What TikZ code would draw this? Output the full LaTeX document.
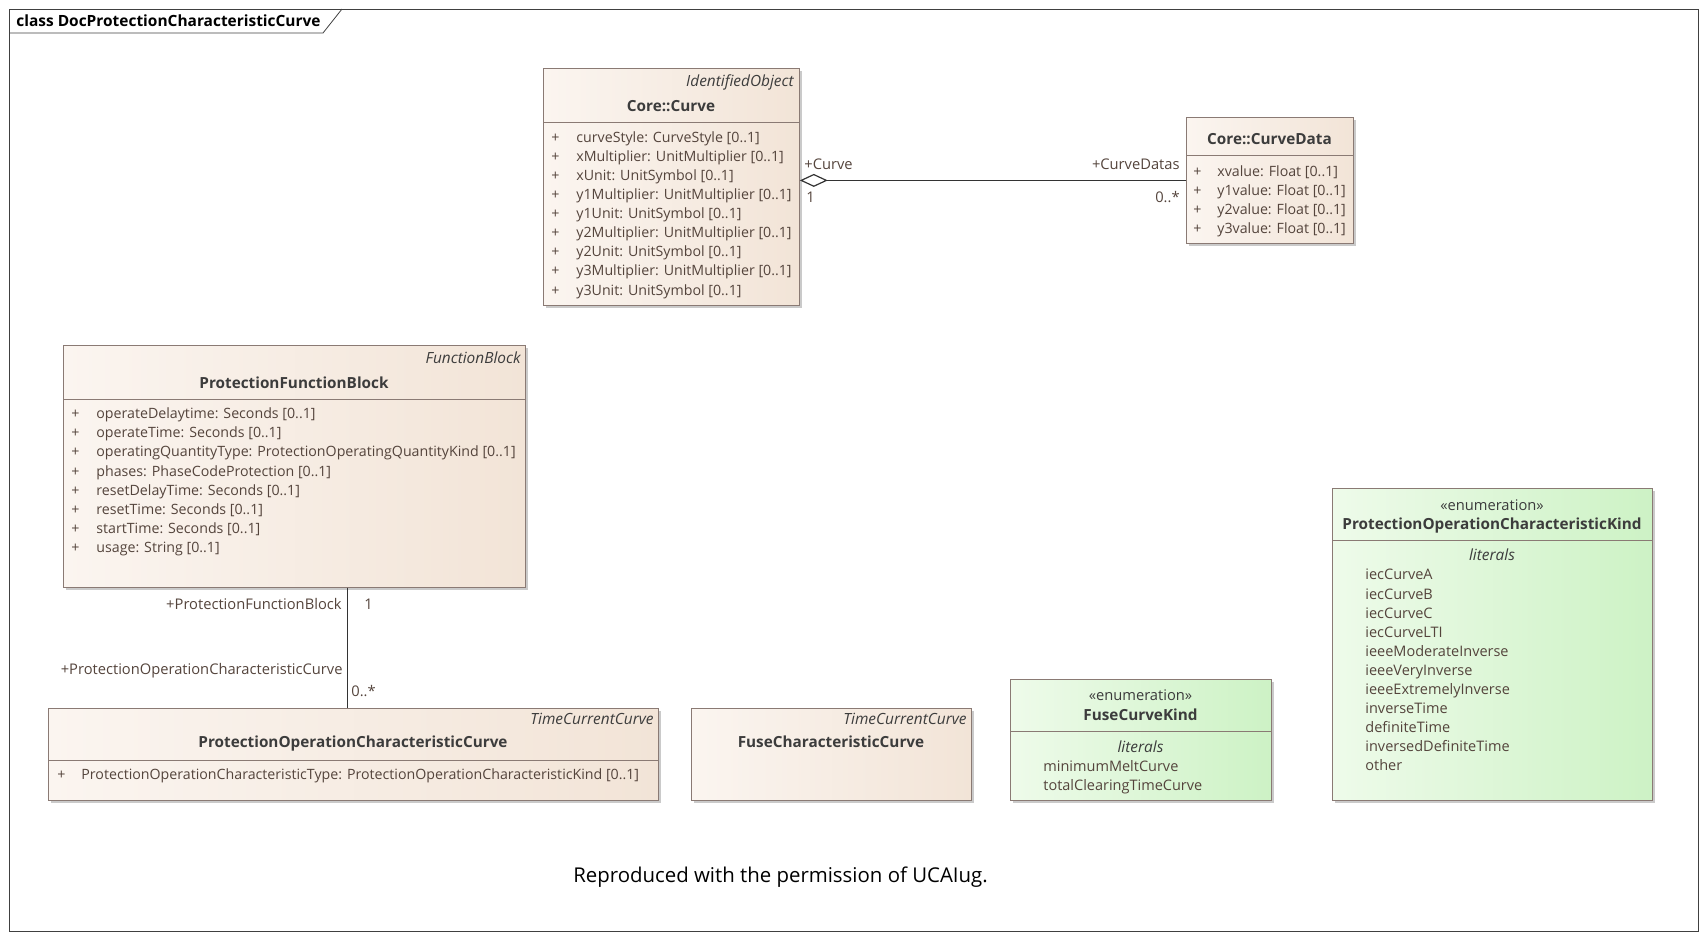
\documentclass[tikz,border=0pt]{standalone}
\usepackage{fontspec}
\setmainfont{Open Sans}
\usetikzlibrary{arrows.meta,shadows}
\definecolor{boxline}{RGB}{138,122,116}
\definecolor{clsL}{RGB}{251,245,240}
\definecolor{clsR}{RGB}{242,228,215}
\definecolor{enumL}{RGB}{238,251,234}
\definecolor{enumR}{RGB}{205,242,197}
\definecolor{attrtext}{RGB}{84,68,60}
\definecolor{headtext}{RGB}{60,60,60}
\begin{document}
\begin{tikzpicture}[x=0.5pt,y=-0.5pt,
  classbox/.style={draw=boxline, left color=clsL, right color=clsR, anchor=north west, inner sep=0pt,
    drop shadow={shadow xshift=1.5pt, shadow yshift=-1.5pt, fill=black!35, opacity=.6}},
  enumbox/.style={classbox, left color=enumL, right color=enumR},
  attr/.style={anchor=base west, inner sep=0pt, yshift=-0.6pt, text=attrtext, font=\fontsize{7.1}{8}\selectfont},
  literal/.style={attr, font=\fontsize{7.25}{8}\selectfont},
  title/.style={anchor=base, inner sep=0pt, yshift=-0.6pt, text=headtext, font=\fontsize{7.65}{9}\selectfont\bfseries},
  stereo/.style={anchor=base east, inner sep=0pt, yshift=-0.6pt, text=headtext, font=\fontsize{7.7}{9}\selectfont\itshape},
  role/.style={inner sep=0pt, yshift=-0.6pt, text=attrtext, font=\fontsize{7.35}{8}\selectfont},
  assoc/.style={draw=black!80, line width=0.6pt}]
\useasboundingbox (0,0) rectangle (1707,938);
% diagram frame
\draw[black!75] (9,9) rectangle (1698,931);
\draw[black!75] (9,33) -- (323,33) -- (342,9);
\node (frametitle) [anchor=base west, inner sep=0pt, font=\fontsize{7.73}{9}\selectfont\bfseries] at (16,26) {class DocProtectionCharacteristicCurve};

% Core::Curve
\node (curve) [classbox, minimum width=128pt, minimum height=118.5pt] at (543,68) {};
\draw[boxline] (543,122) -- (799,122);
\node (curvestereo) [stereo] at (794,85.5) {IdentifiedObject};
\node (curvetitle) [title] at (671,110) {Core::Curve};
\node (curvep1) [attr] at (551,141) {+};
\node (curvep2) [attr] at (551,160.1) {+};
\node (curvep3) [attr] at (551,179.2) {+};
\node (curvep4) [attr] at (551,198.3) {+};
\node (curvep5) [attr] at (551,217.4) {+};
\node (curvep6) [attr] at (551,236.5) {+};
\node (curvep7) [attr] at (551,255.6) {+};
\node (curvep8) [attr] at (551,274.7) {+};
\node (curvep9) [attr] at (551,293.8) {+};
\node (curvea1) [attr] at (576,141) {curveStyle: CurveStyle [0..1]};
\node (curvea2) [attr] at (576,160.1) {xMultiplier: UnitMultiplier [0..1]};
\node (curvea3) [attr] at (576,179.2) {xUnit: UnitSymbol [0..1]};
\node (curvea4) [attr] at (576,198.3) {y1Multiplier: UnitMultiplier [0..1]};
\node (curvea5) [attr] at (576,217.4) {y1Unit: UnitSymbol [0..1]};
\node (curvea6) [attr] at (576,236.5) {y2Multiplier: UnitMultiplier [0..1]};
\node (curvea7) [attr] at (576,255.6) {y2Unit: UnitSymbol [0..1]};
\node (curvea8) [attr] at (576,274.7) {y3Multiplier: UnitMultiplier [0..1]};
\node (curvea9) [attr] at (576,293.8) {y3Unit: UnitSymbol [0..1]};

% Core::CurveData
\node (curvedata) [classbox, minimum width=83.5pt, minimum height=63pt] at (1186,117) {};
\draw[boxline] (1186,155) -- (1353,155);
\node (curvedatatitle) [title] at (1269.5,143.5) {Core::CurveData};
\node (curvedatap1) [attr] at (1193,175) {+};
\node (curvedatap2) [attr] at (1193,194.1) {+};
\node (curvedatap3) [attr] at (1193,213.2) {+};
\node (curvedatap4) [attr] at (1193,232.3) {+};
\node (curvedataa1) [attr] at (1217,175) {xvalue: Float [0..1]};
\node (curvedataa2) [attr] at (1217,194.1) {y1value: Float [0..1]};
\node (curvedataa3) [attr] at (1217,213.2) {y2value: Float [0..1]};
\node (curvedataa4) [attr] at (1217,232.3) {y3value: Float [0..1]};

\draw[assoc, {Diamond[open, length=14pt, width=6.5pt]}-] (curve.east |- curvedata.west) -- (curvedata.west);
\node (curverole) [role, anchor=base west] at (804,168) {+Curve};
\node (curvemult) [role, anchor=base west] at (806,201) {1};
\node (curvedatarole) [role, anchor=base east] at (1180,168) {+CurveDatas};
\node (curvedatamult) [role, anchor=base east] at (1180,201) {0..*};

% ProtectionFunctionBlock
\node (pfb) [classbox, minimum width=231pt, minimum height=121pt] at (63,345) {};
\draw[boxline] (63,399) -- (525,399);
\node (pfbstereo) [stereo] at (521,362) {FunctionBlock};
\node (pfbtitle) [title] at (294,387) {ProtectionFunctionBlock};
\node (pfbp1) [attr] at (71,417.5) {+};
\node (pfbp2) [attr] at (71,436.6) {+};
\node (pfbp3) [attr] at (71,455.7) {+};
\node (pfbp4) [attr] at (71,474.8) {+};
\node (pfbp5) [attr] at (71,493.9) {+};
\node (pfbp6) [attr] at (71,513) {+};
\node (pfbp7) [attr] at (71,532.1) {+};
\node (pfbp8) [attr] at (71,551.2) {+};
\node (pfba1) [attr] at (96,417.5) {operateDelaytime: Seconds [0..1]};
\node (pfba2) [attr] at (96,436.6) {operateTime: Seconds [0..1]};
\node (pfba3) [attr] at (96,455.7) {operatingQuantityType: ProtectionOperatingQuantityKind [0..1]};
\node (pfba4) [attr] at (96,474.8) {phases: PhaseCodeProtection [0..1]};
\node (pfba5) [attr] at (96,493.9) {resetDelayTime: Seconds [0..1]};
\node (pfba6) [attr] at (96,513) {resetTime: Seconds [0..1]};
\node (pfba7) [attr] at (96,532.1) {startTime: Seconds [0..1]};
\node (pfba8) [attr] at (96,551.2) {usage: String [0..1]};

% ProtectionOperationCharacteristicCurve
\node (pocc) [classbox, minimum width=305pt, minimum height=46pt] at (48,708) {};
\draw[boxline] (48,760) -- (658,760);
\node (poccstereo) [stereo] at (654,723.5) {TimeCurrentCurve};
\node (pocctitle) [title] at (353,746) {ProtectionOperationCharacteristicCurve};
\node (poccp1) [attr] at (57,778) {+};
\node (pocca1) [attr] at (81,778) {ProtectionOperationCharacteristicType: ProtectionOperationCharacteristicKind [0..1]};

\draw[assoc] ([xshift=26.5pt]pfb.south) -- ([xshift=26.5pt]pfb.south |- pocc.north);
\node (pfbrole) [role, anchor=base east] at (342,608) {+ProtectionFunctionBlock};
\node (pfbmult) [role, anchor=base west] at (364,608) {1};
\node (poccrole) [role, anchor=base east] at (343,673) {+ProtectionOperationCharacteristicCurve};
\node (poccmult) [role, anchor=base west] at (351,695) {0..*};

% FuseCharacteristicCurve
\node (fcc) [classbox, minimum width=140pt, minimum height=46pt] at (691,708) {};
\node (fccstereo) [stereo] at (967,723.5) {TimeCurrentCurve};
\node (fcctitle) [title] at (831,746) {FuseCharacteristicCurve};

% FuseCurveKind
\node (fck) [enumbox, minimum width=130.5pt, minimum height=60.5pt] at (1010,679) {};
\draw[boxline] (1010,731.5) -- (1271,731.5);
\node (fckstereo) [role, anchor=base, text=headtext] at (1140.5,699.5) {«enumeration»};
\node (fcktitle) [title] at (1140.5,719) {FuseCurveKind};
\node (fckliterals) [stereo, anchor=base] at (1140.5,751) {literals};
\node (fckl1) [literal] at (1043,770) {minimumMeltCurve};
\node (fckl2) [literal] at (1043,789) {totalClearingTimeCurve};

% ProtectionOperationCharacteristicKind
\node (pock) [enumbox, minimum width=160pt, minimum height=156pt] at (1332,488) {};
\draw[boxline] (1332,540) -- (1652,540);
\node (pockstereo) [role, anchor=base, text=headtext] at (1492,509) {«enumeration»};
\node (pocktitle) [title] at (1492,528.6) {ProtectionOperationCharacteristicKind};
\node (pockliterals) [stereo, anchor=base] at (1492,559) {literals};
\node (pockl1) [literal] at (1365,578.7) {iecCurveA};
\node (pockl2) [literal] at (1365,597.8) {iecCurveB};
\node (pockl3) [literal] at (1365,616.9) {iecCurveC};
\node (pockl4) [literal] at (1365,636) {iecCurveLTI};
\node (pockl5) [literal] at (1365,655.1) {ieeeModerateInverse};
\node (pockl6) [literal] at (1365,674.2) {ieeeVeryInverse};
\node (pockl7) [literal] at (1365,693.3) {ieeeExtremelyInverse};
\node (pockl8) [literal] at (1365,712.4) {inverseTime};
\node (pockl9) [literal] at (1365,731.5) {definiteTime};
\node (pockl10) [literal] at (1365,750.6) {inversedDefiniteTime};
\node (pockl11) [literal] at (1365,769.7) {other};

\node (credit) [inner sep=0pt, font=\fontsize{10.2}{12}\selectfont] at (780.5,877) {Reproduced with the permission of UCAIug.};
\end{tikzpicture}
\end{document}
